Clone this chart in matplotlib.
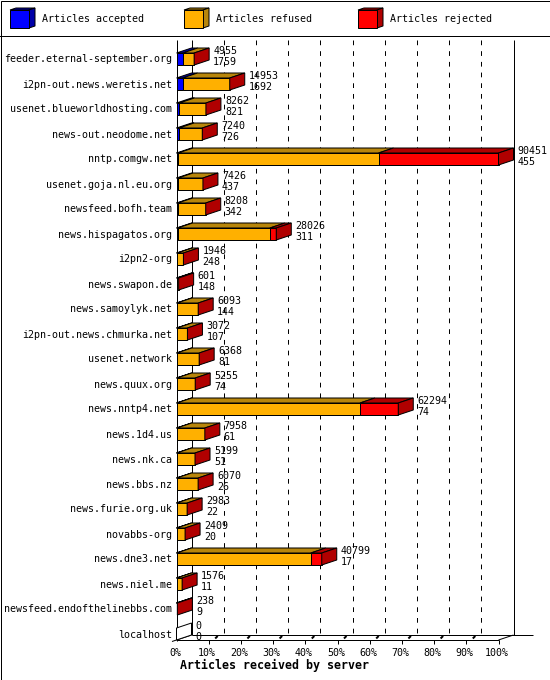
import matplotlib
matplotlib.use("Agg")
import matplotlib.pyplot as plt
from matplotlib.patches import Polygon, Rectangle
from matplotlib.transforms import offset_copy

# ---------------- data ----------------
servers = ["feeder.eternal-september.org", "i2pn-out.news.weretis.net",
           "usenet.blueworldhosting.com", "news-out.neodome.net", "nntp.comgw.net",
           "usenet.goja.nl.eu.org", "newsfeed.bofh.team", "news.hispagatos.org",
           "i2pn2-org", "news.swapon.de", "news.samoylyk.net",
           "i2pn-out.news.chmurka.net", "usenet.network", "news.quux.org",
           "news.nntp4.net", "news.1d4.us", "news.nk.ca", "news.bbs.nz",
           "news.furie.org.uk", "novabbs-org", "news.dne3.net", "news.niel.me",
           "newsfeed.endofthelinebbs.com", "localhost"]
offered = [4955, 14953, 8262, 7240, 90451, 7426, 8208, 28026, 1946, 601, 6093,
           3072, 6368, 5255, 62294, 7958, 5199, 6070, 2983, 2409, 40799, 1576, 238, 0]
accepted = [1759, 1692, 821, 726, 455, 437, 342, 311, 248, 148, 144, 107, 81, 74,
            74, 61, 51, 26, 22, 20, 17, 11, 9, 0]
rejected = [0, 0, 0, 0, 33700, 0, 0, 1800, 0, 0, 0, 0, 0, 0, 10760, 0, 0, 0, 0, 0,
            3090, 0, 0, 0]
refused = [o - a - r for o, a, r in zip(offered, accepted, rejected)]

series_names = ["Articles accepted", "Articles refused", "Articles rejected"]
front_colors = ["#0000FF", "#FFB000", "#FF0000"]
dark_colors = ["#0000A8", "#B8860B", "#B00000"]
tick_labels = ["0%", "10%", "20%", "30%", "40%", "50%", "60%", "70%", "80%",
               "90%", "100%"]
x_title = "Articles received by server"

# ---------------- layout ----------------
plt.rcParams["font.family"] = ["DejaVu Sans Mono"]
plt.rcParams["lines.scale_dashes"] = False
W, H, DPI = 550, 680, 100
fig = plt.figure(figsize=(W / DPI, H / DPI), dpi=DPI)
fig.patch.set_facecolor("white")
LW = 72.0 / DPI  # 1 pixel
FS = 7.2
PX0, PX1 = 176.5, 498.5
PY0, PY1 = 40, 640
DEPX, DEPY = 15, 5
BARPX = 12

n = len(servers)
vmax = max(offered)
ax = fig.add_axes([PX0 / W, 1 - PY1 / H, (PX1 - PX0) / W, (PY1 - PY0) / H])
ax.set_xlim(0, vmax)
ax.set_ylim(n, 0)
ax.axis("off")

ux = vmax / (PX1 - PX0)
uy = n / (PY1 - PY0)
ddx = DEPX * ux
ddy = DEPY * uy
bh = BARPX * uy


def line(xs, ys, **kw):
    d = dict(color="black", lw=LW, clip_on=False, solid_capstyle="butt", zorder=1)
    d.update(kw)
    ax.plot(xs, ys, **d)


# walls and floor
line([0, 0], [0, n + 0.5 * uy])
line([ddx, ddx], [0, n - ddy])
line([vmax + ddx] * 2, [0, n - ddy])
for k in range(1, 10):
    xk = k * vmax / 10 + ddx
    line([xk, xk], [0, n - ddy], linestyle=(0, (3.4, 4.3)))
line([0, vmax], [n, n])
line([ddx, vmax + ddx + 19 * ux], [n - ddy, n - ddy])
line([vmax, vmax + ddx], [n, n - ddy])
line([-4.5 * ux, ddx], [n + 1.5 * uy, n - ddy])
for k in range(1, 11):
    xk = k * vmax / 10
    line([xk, xk], [n, n + 4 * uy])
    if k < 10:
        line([xk + 6.5 * ux, xk + 9 * ux], [n - 1.5 * uy, n - 4 * uy], lw=2 * LW)

# bars
series = [accepted, refused, rejected]
for i in range(n):
    yb = i + 1
    yt = yb - bh
    left = 0
    last = None
    for s in range(3):
        w = series[s][i]
        if w <= 0:
            continue
        ax.add_patch(Rectangle((left, yt), w, bh, fc=front_colors[s], ec="black",
                               lw=LW, clip_on=False, zorder=3))
        ax.add_patch(Polygon([(left, yt), (left + w, yt), (left + w + ddx, yt - ddy),
                              (left + ddx, yt - ddy)], closed=True, fc=dark_colors[s],
                             ec="black", lw=LW, clip_on=False, zorder=3))
        left += w
        last = s
    tot = offered[i]
    sc = dark_colors[2] if tot > 0 else "white"
    ax.add_patch(Polygon([(tot, yt), (tot + ddx, yt - ddy), (tot + ddx, yb - ddy),
                          (tot, yb)], closed=True, fc=sc, ec="black", lw=LW,
                         clip_on=False, zorder=4))

# labels
name_tr = offset_copy(ax.transData, fig=fig, x=-4.5, y=-3.5, units="dots")
top_tr = offset_copy(ax.transData, fig=fig, x=DEPX + 4, y=10.8, units="dots")
bot_tr = offset_copy(ax.transData, fig=fig, x=DEPX + 4, y=0.3, units="dots")
for i in range(n):
    ax.text(0, i + 1 - bh / 2, servers[i], transform=name_tr, ha="right",
            va="baseline", fontsize=FS, zorder=5)
    ax.text(offered[i], i + 1, str(offered[i]), transform=top_tr, ha="left",
            va="baseline", fontsize=FS, zorder=5)
    ax.text(offered[i], i + 1, str(accepted[i]), transform=bot_tr, ha="left",
            va="baseline", fontsize=FS, zorder=5)

tick_tr = offset_copy(ax.transData, fig=fig, x=-1.5, y=-16.5, units="dots")
for k, lab in enumerate(tick_labels):
    ax.text(k * vmax / 10, n, lab, transform=tick_tr, ha="center", va="baseline",
            fontsize=FS)

# overlay: frame, legend, title
ov = fig.add_axes([0, 0, 1, 1], zorder=-1)
ov.set_xlim(0, W)
ov.set_ylim(H, 0)
ov.axis("off")
ov.add_patch(Rectangle((0.5, 0.5), W - 1, H - 1, fill=False, ec="black", lw=LW))
ov.plot([0, W], [35.5, 35.5], color="black", lw=LW)
ov.text(180, 669.5, x_title, fontsize=8.4, fontweight="bold", ha="left",
        va="baseline")

leg_x = [10, 184, 358]
for s in range(3):
    x0 = leg_x[s]
    ov.add_patch(Polygon([(x0, 10), (x0 + 6, 8), (x0 + 25, 8), (x0 + 19, 10)],
                         closed=True, fc=dark_colors[s], ec="black", lw=LW))
    ov.add_patch(Polygon([(x0 + 19, 10), (x0 + 25, 8), (x0 + 25, 26), (x0 + 19, 28)],
                         closed=True, fc=dark_colors[s], ec="black", lw=LW))
    ov.add_patch(Rectangle((x0, 10), 19, 18, fc=front_colors[s], ec="black", lw=LW))
    ov.text(x0 + 32, 22.5, series_names[s], fontsize=FS, ha="left", va="baseline")

fig.savefig("out.png", dpi=DPI, facecolor="white")
